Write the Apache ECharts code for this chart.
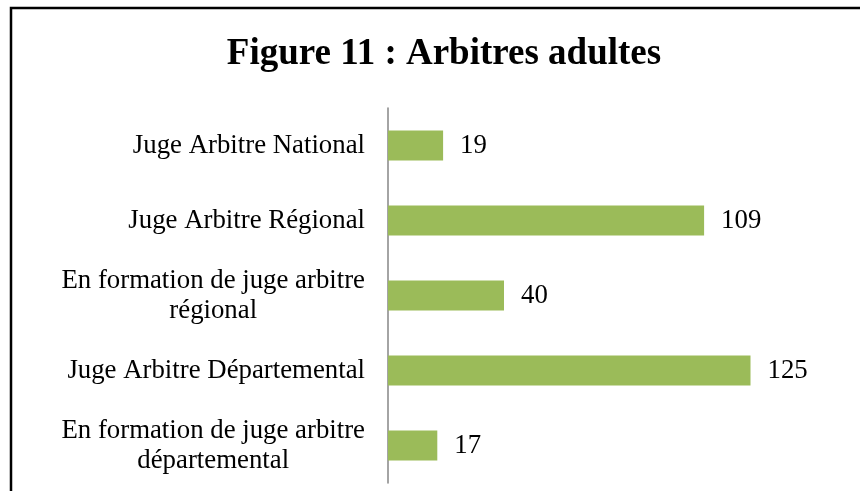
<!DOCTYPE html>
<html>
<head>
<meta charset="utf-8">
<script src="https://cdn.jsdelivr.net/npm/echarts@6/dist/echarts.min.js"></script>
<style>
  html, body {margin: 0; padding: 0; background: #fff;}
  #chart {width: 860px; height: 491px;}
</style>
</head>
<body>
<div id="chart"></div>
<script>
// data, top to bottom as in the figure
const categories = [
  'Juge Arbitre National',
  'Juge Arbitre Régional',
  'En formation de juge arbitre\nrégional',
  'Juge Arbitre Départemental',
  'En formation de juge arbitre\ndépartemental'
];
const values = [19, 109, 40, 125, 17];

const serif = '"Liberation Serif", "Times New Roman", serif';
const myChart = echarts.init(document.getElementById('chart'));
myChart.setOption({
  animation: false,
  title: {
    text: 'Figure 11 : Arbitres adultes',
    left: 439, top: 31, textAlign: 'center',
    textStyle: {fontFamily: serif, fontWeight: 'bold', fontSize: 37, color: '#000'}
  },
  graphic: [{
    type: 'rect',
    shape: {x: 11, y: 8, width: 900, height: 600},
    style: {fill: null, stroke: '#000', lineWidth: 2.5},
    silent: true
  }],
  grid: {left: 388, top: 108, width: 406, height: 375},
  xAxis: {
    type: 'value', min: 0, max: 140,
    show: false
  },
  yAxis: {
    type: 'category',
    inverse: true,
    data: categories,
    axisLine: {show: true, lineStyle: {color: '#868686', width: 1.5}},
    axisTick: {show: false},
    axisLabel: {
      margin: 23, fontFamily: serif, fontSize: 26.8, color: '#000',
      formatter: v => v.split('\n').map(s => '{c|' + s + '}').join('\n'),
      rich: {c: {align: 'center', fontFamily: serif, fontSize: 26.8, lineHeight: 30, color: '#000'}}
    }
  },
  series: [{
    type: 'bar',
    data: values,
    barWidth: 30,
    itemStyle: {color: '#9BBB59'},
    label: {
      show: true, position: 'right', distance: 17,
      fontFamily: serif, fontSize: 26.8, color: '#000'
    }
  }]
});
</script>
</body>
</html>
